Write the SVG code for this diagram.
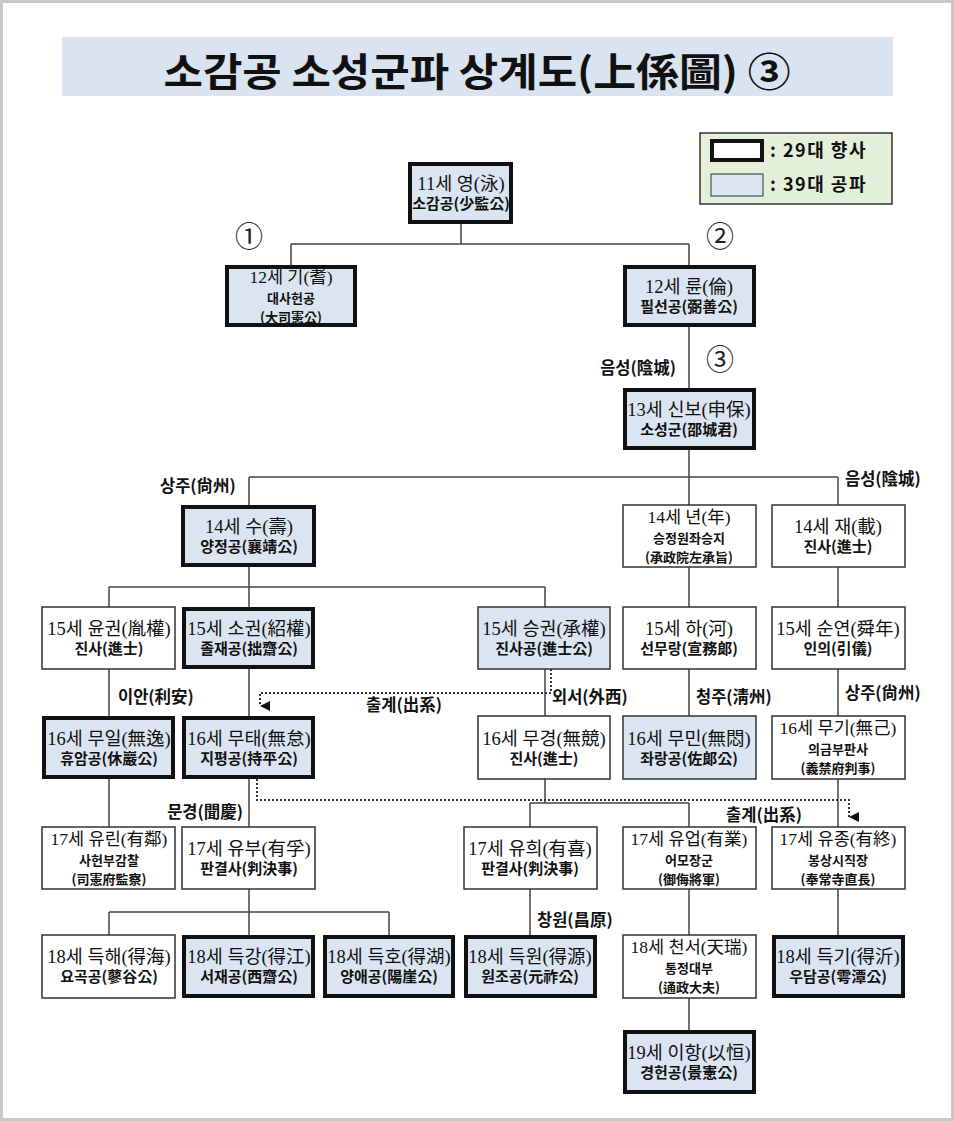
<svg xmlns="http://www.w3.org/2000/svg" width="954" height="1121" viewBox="0 0 954 1121">
<style>
.bg{fill:#fff;stroke:#c8c8c8;stroke-width:3}
.tk{fill:#dbe5f1;stroke:#111;stroke-width:4}
.tn{fill:#fff;stroke:#333;stroke-width:1.5}
.tb{fill:#dbe5f1;stroke:#333;stroke-width:1.5}
.t1{font-family:"Liberation Serif","Noto Sans CJK KR",serif;font-size:18.5px;fill:#111;text-anchor:middle}
.t2{font-family:"Noto Sans CJK KR","Liberation Sans",sans-serif;font-size:15px;font-weight:bold;fill:#111;text-anchor:middle}
.s3{font-size:17.5px}
.s4{font-size:13px}
.lb{font-family:"Noto Sans CJK KR","Liberation Sans",sans-serif;font-size:16.5px;font-weight:bold;fill:#111}
.lg{font-size:18px;letter-spacing:1.5px}
.cn{font-family:"Noto Sans CJK KR","DejaVu Sans",sans-serif;font-size:28px;fill:#222;text-anchor:middle}
.ln{fill:none;stroke:#444;stroke-width:1.5}
.dt{fill:none;stroke:#333;stroke-width:2;stroke-dasharray:2,2}
</style>
<defs>
<marker id="arr" viewBox="0 0 10 10" refX="5" refY="10" markerWidth="10" markerHeight="10" markerUnits="userSpaceOnUse" orient="auto-start-reverse">
<path d="M0,0 L10,0 L5,10 Z" fill="#111"/>
</marker>
</defs>
<rect class="bg" x="1.5" y="1.5" width="951" height="1118"/>

<g id="title">
<rect x="62" y="37" width="831" height="59" fill="#dae3f0"/>
<text x="477" y="86" font-family="Noto Sans CJK KR, sans-serif" font-size="39" font-weight="bold" fill="#111" text-anchor="middle" textLength="627" lengthAdjust="spacingAndGlyphs">소감공 소성군파 상계도(上係圖) ③</text>
</g>

<g id="legend">
<rect x="700" y="133" width="192" height="71" fill="#e3efd9" stroke="#333" stroke-width="1.5"/>
<rect x="712" y="141" width="50" height="19" fill="#fff" stroke="#111" stroke-width="4"/>
<rect x="711" y="174" width="52" height="22" fill="#dbe5f1" stroke="#333" stroke-width="1"/>
<text class="lb lg" x="770" y="157">: 29대 향사</text>
<text class="lb lg" x="770" y="191">: 39대 공파</text>
</g>

<g id="connectors">
<path class="ln" d="M461,224 V244 M291,244 H689 M291,244 V265 M689,244 V265"/>
<path class="ln" d="M689,327 V388"/>
<path class="ln" d="M689,450 V505 M249,477 H838 M249,477 V505 M838,477 V505"/>
<path class="ln" d="M249,567 V607 M109,587 H545 M109,587 V607 M545,587 V607"/>
<path class="ln" d="M689,567 V607 M838,567 V607"/>
<path class="ln" d="M109,669 V716 M249,669 V716 M545,669 V716 M689,669 V716 M838,669 V716"/>
<path class="dt" d="M551,669 V693 H260 V706" marker-end="url(#arr)"/>
<path class="ln" d="M109,779 V827 M249,779 V827 M838,779 V827"/>
<path class="ln" d="M545,779 V803 M530,803 H689 M530,803 V827 M689,803 V827"/>
<path class="dt" d="M257,779 V800 H849 V817" marker-end="url(#arr)"/>
<path class="ln" d="M249,889 V912 M109,912 H389 M109,912 V935 M249,912 V935 M389,912 V935"/>
<path class="ln" d="M530,889 V935 M689,889 V935 M838,889 V935"/>
<path class="ln" d="M689,998 V1030"/>
</g>

<g id="labels">
<text class="cn" x="249" y="247">①</text>
<text class="cn" x="720" y="247">②</text>
<text class="cn" x="720" y="370">③</text>
<text class="lb" x="676" y="374" text-anchor="end">음성(陰城)</text>
<text class="lb" x="160" y="492">상주(尙州)</text>
<text class="lb" x="845" y="485">음성(陰城)</text>
<text class="lb" x="118" y="703">이안(利安)</text>
<text class="lb" x="404" y="711" text-anchor="middle">출계(出系)</text>
<text class="lb" x="552" y="703">외서(外西)</text>
<text class="lb" x="696" y="703">청주(淸州)</text>
<text class="lb" x="845" y="699">상주(尙州)</text>
<text class="lb" x="243" y="818" text-anchor="end">문경(聞慶)</text>
<text class="lb" x="764" y="821" text-anchor="middle">출계(出系)</text>
<text class="lb" x="537" y="926">창원(昌原)</text>
</g>

<g id="n11"><rect class="tk" x="410" y="164" width="101" height="58"/><text class="t1" x="461" y="190">11세 영(泳)</text><text class="t2" x="461" y="209">소감공(少監公)</text></g>

<g id="n12a"><rect class="tk" x="227" y="267" width="128" height="58"/><text class="t1 s3" x="291" y="283">12세 기(耆)</text><text class="t2 s4" x="291" y="303">대사헌공</text><text class="t2 s4" x="291" y="322">(大司憲公)</text></g>
<g id="n12b"><rect class="tk" x="625" y="267" width="129" height="58"/><text class="t1" x="689" y="293">12세 륜(倫)</text><text class="t2" x="689" y="312">필선공(弼善公)</text></g>

<g id="n13"><rect class="tk" x="625" y="390" width="129" height="58"/><text class="t1" x="689" y="416">13세 신보(申保)</text><text class="t2" x="689" y="435">소성군(邵城君)</text></g>

<g id="n14a"><rect class="tk" x="183" y="507" width="131" height="58"/><text class="t1" x="249" y="533">14세 수(壽)</text><text class="t2" x="249" y="552">양정공(襄靖公)</text></g>
<g id="n14b"><rect class="tn" x="623" y="505" width="133" height="62"/><text class="t1 s3" x="689" y="523">14세 년(年)</text><text class="t2 s4" x="689" y="543">승정원좌승지</text><text class="t2 s4" x="689" y="562">(承政院左承旨)</text></g>
<g id="n14c"><rect class="tn" x="772" y="505" width="133" height="62"/><text class="t1" x="838" y="533">14세 재(載)</text><text class="t2" x="838" y="552">진사(進士)</text></g>

<g id="n15a"><rect class="tn" x="42" y="607" width="133" height="62"/><text class="t1" x="109" y="635">15세 윤권(胤權)</text><text class="t2" x="109" y="654">진사(進士)</text></g>
<g id="n15b"><rect class="tk" x="184" y="609" width="129" height="58"/><text class="t1" x="249" y="635">15세 소권(紹權)</text><text class="t2" x="249" y="654">졸재공(拙齋公)</text></g>
<g id="n15c"><rect class="tb" x="478" y="607" width="132" height="62"/><text class="t1" x="544" y="635">15세 승권(承權)</text><text class="t2" x="544" y="654">진사공(進士公)</text></g>
<g id="n15d"><rect class="tn" x="623" y="607" width="133" height="62"/><text class="t1" x="689" y="635">15세 하(河)</text><text class="t2" x="689" y="654">선무랑(宣務郞)</text></g>
<g id="n15e"><rect class="tn" x="772" y="607" width="133" height="62"/><text class="t1" x="838" y="635">15세 순연(舜年)</text><text class="t2" x="838" y="654">인의(引儀)</text></g>

<g id="n16a"><rect class="tk" x="44" y="718" width="129" height="59"/><text class="t1" x="109" y="745">16세 무일(無逸)</text><text class="t2" x="109" y="764">휴암공(休巖公)</text></g>
<g id="n16b"><rect class="tk" x="184" y="718" width="129" height="59"/><text class="t1" x="249" y="745">16세 무태(無怠)</text><text class="t2" x="249" y="764">지평공(持平公)</text></g>
<g id="n16c"><rect class="tn" x="478" y="716" width="132" height="63"/><text class="t1" x="544" y="745">16세 무경(無競)</text><text class="t2" x="544" y="764">진사(進士)</text></g>
<g id="n16d"><rect class="tb" x="623" y="716" width="133" height="63"/><text class="t1" x="689" y="745">16세 무민(無悶)</text><text class="t2" x="689" y="764">좌랑공(佐郞公)</text></g>
<g id="n16e"><rect class="tn" x="772" y="716" width="133" height="63"/><text class="t1 s3" x="838" y="734">16세 무기(無己)</text><text class="t2 s4" x="838" y="754">의금부판사</text><text class="t2 s4" x="838" y="773">(義禁府判事)</text></g>

<g id="n17a"><rect class="tn" x="42" y="827" width="133" height="62"/><text class="t1 s3" x="109" y="845">17세 유린(有鄰)</text><text class="t2 s4" x="109" y="865">사헌부감찰</text><text class="t2 s4" x="109" y="884">(司憲府監察)</text></g>
<g id="n17b"><rect class="tn" x="182" y="827" width="133" height="62"/><text class="t1" x="249" y="855">17세 유부(有孚)</text><text class="t2" x="249" y="874">판결사(判決事)</text></g>
<g id="n17c"><rect class="tn" x="464" y="827" width="133" height="62"/><text class="t1" x="530" y="855">17세 유희(有喜)</text><text class="t2" x="530" y="874">판결사(判決事)</text></g>
<g id="n17d"><rect class="tn" x="623" y="827" width="133" height="62"/><text class="t1 s3" x="689" y="845">17세 유업(有業)</text><text class="t2 s4" x="689" y="865">어모장군</text><text class="t2 s4" x="689" y="884">(御侮將軍)</text></g>
<g id="n17e"><rect class="tn" x="772" y="827" width="133" height="62"/><text class="t1 s3" x="838" y="845">17세 유종(有終)</text><text class="t2 s4" x="838" y="865">봉상시직장</text><text class="t2 s4" x="838" y="884">(奉常寺直長)</text></g>

<g id="n18a"><rect class="tn" x="42" y="935" width="133" height="63"/><text class="t1" x="109" y="963">18세 득해(得海)</text><text class="t2" x="109" y="982">요곡공(蓼谷公)</text></g>
<g id="n18b"><rect class="tk" x="184" y="937" width="129" height="59"/><text class="t1" x="249" y="963">18세 득강(得江)</text><text class="t2" x="249" y="982">서재공(西齋公)</text></g>
<g id="n18c"><rect class="tk" x="325" y="937" width="128" height="59"/><text class="t1" x="389" y="963">18세 득호(得湖)</text><text class="t2" x="389" y="982">양애공(陽崖公)</text></g>
<g id="n18d"><rect class="tk" x="466" y="937" width="129" height="59"/><text class="t1" x="530" y="963">18세 득원(得源)</text><text class="t2" x="530" y="982">원조공(元祚公)</text></g>
<g id="n18e"><rect class="tn" x="623" y="935" width="133" height="63"/><text class="t1 s3" x="689" y="953">18세 천서(天瑞)</text><text class="t2 s4" x="689" y="973">통정대부</text><text class="t2 s4" x="689" y="992">(通政大夫)</text></g>
<g id="n18f"><rect class="tk" x="774" y="937" width="129" height="59"/><text class="t1" x="838" y="963">18세 득기(得沂)</text><text class="t2" x="838" y="982">우담공(雩潭公)</text></g>

<g id="n19"><rect class="tk" x="625" y="1032" width="129" height="60"/><text class="t1" x="689" y="1059">19세 이항(以恒)</text><text class="t2" x="689" y="1078">경헌공(景憲公)</text></g>
</svg>
